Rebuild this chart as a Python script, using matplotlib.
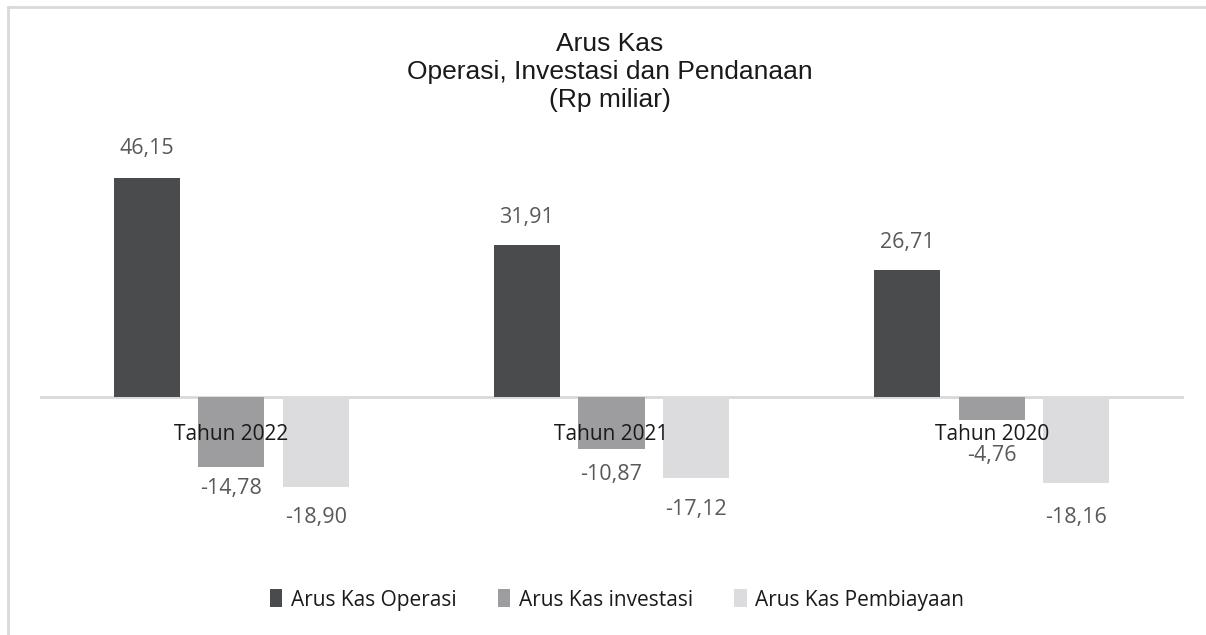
import matplotlib
matplotlib.use("Agg")
import matplotlib.pyplot as plt
import numpy as np
from matplotlib.lines import Line2D

categories = ["Tahun 2022", "Tahun 2021", "Tahun 2020"]
series_names = ["Arus Kas Operasi", "Arus Kas investasi", "Arus Kas Pembiayaan"]
operasi = [46.15, 31.91, 26.71]
investasi = [-14.78, -10.87, -4.76]
pembiayaan = [-18.90, -17.12, -18.16]
colors = ["#4a4b4d", "#9d9d9f", "#dcdcde"]
# label distance from bar end, in pixels (layout only)
label_gap = [[29, 28, 28], [21, 26, 36], [31, 31, 34]]

W, H = 1206, 635
fig = plt.figure(figsize=(W / 100, H / 100), dpi=100)
fig.patch.set_facecolor("white")

x0, x1 = 41, 1182
ytop, ybot = 140, 560
ax = fig.add_axes([x0 / W, 1 - ybot / H, (x1 - x0) / W, (ybot - ytop) / H])
ppu = 4.75
ax.set_ylim(-(ybot - 397) / ppu, (397 - ytop) / ppu)
ax.set_xlim(-0.5, 2.5)
ax.set_axisbelow(False)

x = np.arange(len(categories))
bw = 66 / 380
step = 84.5 / 380
font = "Open Sans"
for i, (vals, c) in enumerate(zip([operasi, investasi, pembiayaan], colors)):
    xs = x + (i - 1) * step
    ax.bar(xs, vals, width=bw, color=c, label=series_names[i], zorder=1)
    for j, (xx, v) in enumerate(zip(xs, vals)):
        lbl = f"{v:.2f}".replace(".", ",")
        g = label_gap[i][j]
        off = g if v >= 0 else -g
        ax.annotate(lbl, (xx, v), xytext=(0, off * 0.72), textcoords="offset points",
                    ha="center", va="center", fontsize=15.5, color="#595959",
                    family=font, zorder=3)

for s in ["top", "right", "left"]:
    ax.spines[s].set_visible(False)
ax.spines["bottom"].set_position(("data", 0))
ax.spines["bottom"].set_color("#d9d9d9")
ax.spines["bottom"].set_linewidth(2)
ax.spines["bottom"].set_zorder(0.5)
ax.set_yticks([])
ax.set_xticks(x)
ax.set_xticklabels(categories, fontsize=15, color="#1a1a1a", family=font)
ax.tick_params(axis="x", length=0, pad=19.5)
ax.patch.set_alpha(0)

fig.text(610 / W, 1 - 72 / H, "Arus Kas\nOperasi, Investasi dan Pendanaan\n(Rp miliar)",
         ha="center", va="center", fontsize=19, family="Liberation Sans",
         color="#1a1a1a", linespacing=1.22)

leg = fig.legend(loc="center", bbox_to_anchor=(617 / W, 1 - 600 / H), ncol=3,
                 frameon=False, handlelength=0.6, handleheight=0.95,
                 handletextpad=0.4, columnspacing=2.0,
                 prop={"family": font, "size": 15})
for t in leg.get_texts():
    t.set_color("#1a1a1a")

fig.add_artist(Line2D([8 / W, 8 / W], [0, 1 - 7 / H], color="#d9d9d9", lw=2,
                      transform=fig.transFigure))
fig.add_artist(Line2D([8 / W, 1], [1 - 7 / H, 1 - 7 / H], color="#d9d9d9", lw=2,
                      transform=fig.transFigure))

fig.savefig("out.png", dpi=100)
